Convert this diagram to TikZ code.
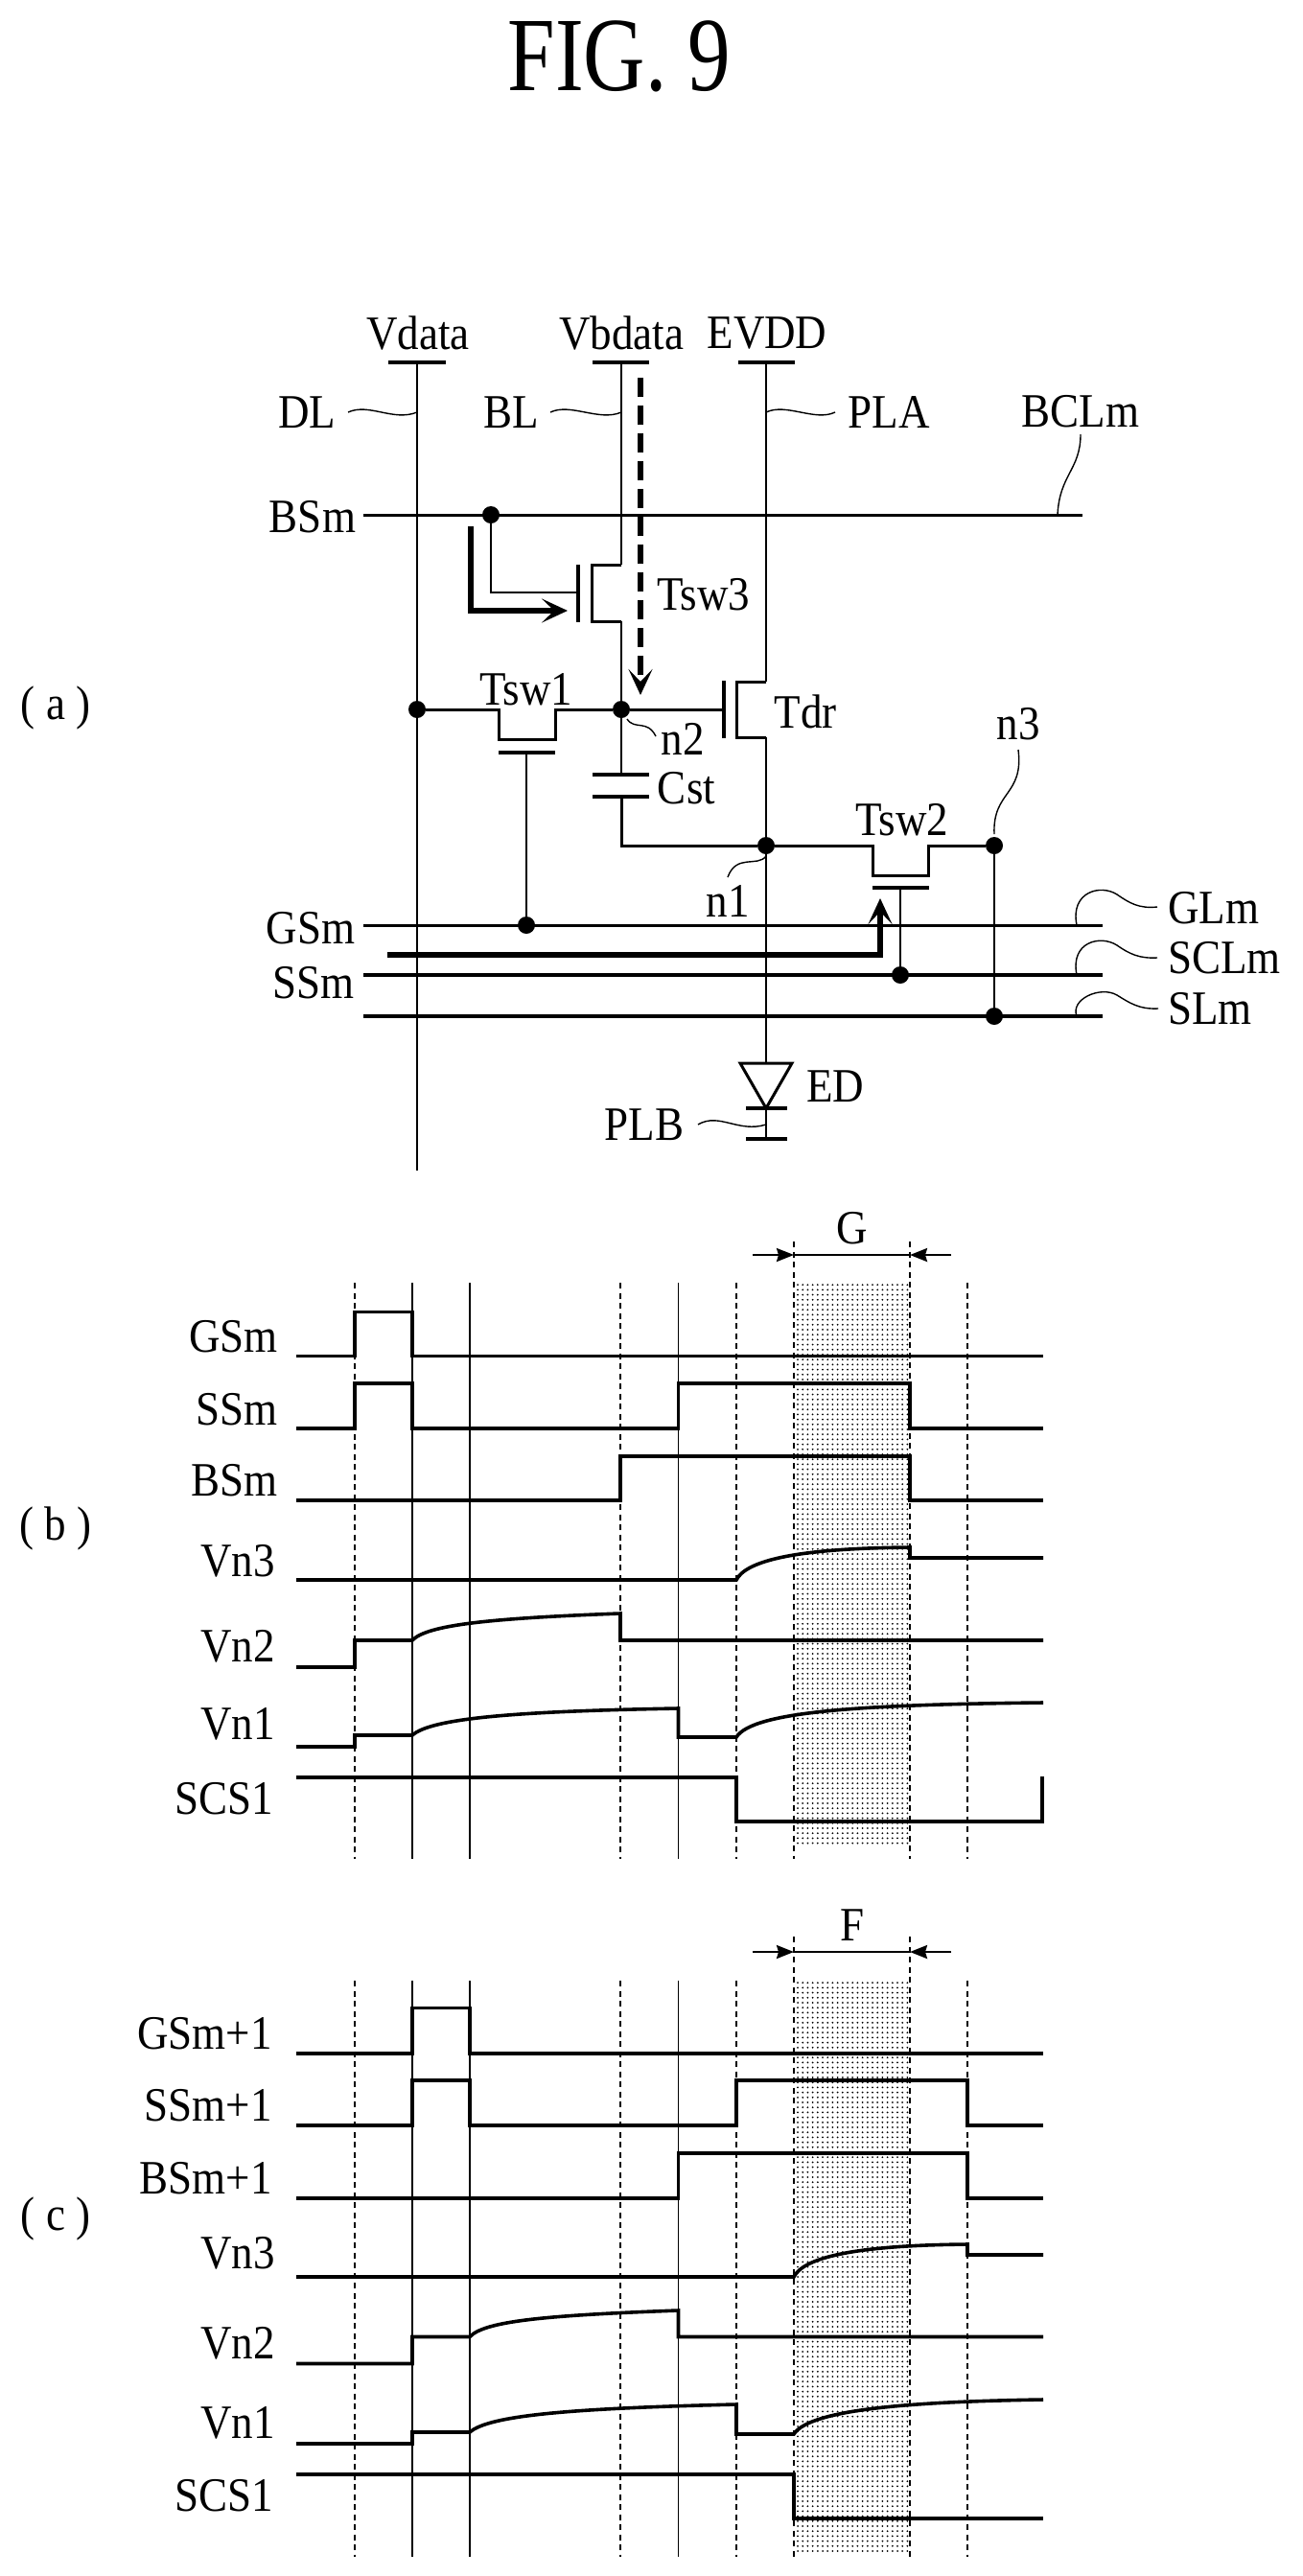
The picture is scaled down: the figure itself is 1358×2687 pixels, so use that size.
\documentclass[tikz,border=0pt]{standalone}
\usepackage{fontspec}
\setmainfont[FakeStretch=0.9]{Liberation Serif}
\newfontfamily\titlefont[FakeStretch=0.81]{Liberation Serif}
\usetikzlibrary{arrows.meta,patterns.meta}
\tikzset{
  x=1pt,y=-1pt,
  wire/.style={line width=2.2pt,black},
  plate/.style={line width=4pt,black},
  heavy/.style={line width=6.5pt,black,line cap=round},
  bus/.style={line width=3.6pt,black},
  sig/.style={line width=3.6pt,black,line join=miter},
  tick/.style={line width=1.3pt,black},
  dashtick/.style={line width=1.2pt,black,dash pattern=on 6pt off 4.5pt},
  wavy/.style={line width=1.4pt,black},
  dot/.style={circle,fill=black,inner sep=0pt,minimum size=18pt},
  lab/.style={inner sep=0pt,font=\fontsize{50}{50}\selectfont,text=black},
  barb/.style={-{Stealth[length=27pt,width=25pt,inset=13pt]}},
  solidtip/.style={-{Stealth[length=18pt,width=14pt,inset=2pt]}},
  shade/.style={pattern={Dots[distance=5.2pt,radius=1pt]},pattern color=black},
}
\begin{document}
\begin{tikzpicture}
\useasboundingbox (0,0) rectangle (1358,2687);
\node[inner sep=0pt,font=\titlefont\fontsize{110}{110}\selectfont] (title) at (646,59) {FIG. 9};

% ---------- (a) circuit ----------
\node[lab] (pa) at (58,738) {( a )};
\node[lab] (tVdata) at (436,348) {Vdata};
\node[lab] (tVb) at (648,348) {Vbdata};
\node[lab] (tEV) at (800,348) {EVDD};
\coordinate (Dt) at (435,378); \coordinate (Db) at (435,1221);
\coordinate (Bt) at (648,378);
\coordinate (Pt) at (799,378);
\draw[plate] (405,378) -- (465,378);
\draw[plate] (618,378) -- (677,378);
\draw[plate] (770,378) -- (829,378);
\node[dot] (n2dot) at (648,740) {};
\node[dot] (dldot) at (435,740) {};
\node[dot] (n1dot) at (799,882) {};
\node[dot] (n3dot) at (1037,882) {};
\node[dot] (bsdot) at (512,537) {};
\node[dot] (gsdot) at (549,965) {};
\node[dot] (ssdot) at (939,1017) {};
\node[dot] (sldot) at (1037,1060) {};
\draw[wire] (Dt) -- (Db);
% BSm / GSm / SSm / SL lines
\coordinate (bsL) at (379,537); \coordinate (bsR) at (1129,537);
\coordinate (gsL) at (379,965); \coordinate (gsR) at (1150,965);
\coordinate (ssL) at (379,1017); \coordinate (ssR) at (1150,1017);
\coordinate (slL) at (379,1060); \coordinate (slR) at (1150,1060);
\draw[wire,line width=3pt] (bsL) -- (bsR);
\draw[wire,line width=3pt] (gsL) -- (gsR);
\draw[bus] (ssL) -- (ssR);
\draw[bus] (slL) -- (slR);
% Tsw3
\coordinate (t3d) at (648,589); \coordinate (t3s) at (648,648);
\draw[wire] (Bt) -- (t3d);
\draw[wire,line width=3pt] (t3d) -- (617,589) -- (617,648) -- (t3s);
\draw[wire] (t3s) -- (n2dot);
\draw[plate] (603,589) -- (603,649);
\coordinate (t3g) at (603,618);
\draw[wire] (bsdot) |- (t3g);
\node[lab] (tT3) at (734,620) {Tsw3};
% L-shaped and dashed flow arrows
\coordinate (La) at (491,549); \coordinate (Lb) at (491,637); \coordinate (Lc) at (592,637);
\draw[heavy,barb,line cap=butt] (La) -- (Lb) -- (Lc);
\coordinate (Fa) at (668,394); \coordinate (Fb) at (668,725);
\draw[heavy,barb,dash pattern=on 20pt off 9pt,line cap=butt] (Fa) -- (Fb);
% Tsw1
\draw[wire,line width=3pt] (dldot) -- (520,740) -- (520,771) -- (579,771) -- (579,740) -- (n2dot);
\draw[plate] (520,785) -- (579,785);
\coordinate (t1g) at (549,785);
\draw[wire] (t1g) -- (gsdot);
\node[lab] (tT1) at (549,719) {Tsw1};
% Tdr
\coordinate (tdg) at (755,740);
\draw[wire,line width=3pt] (n2dot) -- (tdg);
\draw[plate] (755,710) -- (755,770);
\coordinate (tdd) at (799,711); \coordinate (tds) at (799,769);
\draw[wire,line width=3pt] (tdd) -- (768,711) -- (768,769) -- (tds);
\draw[wire] (Pt) -- (tdd);
\draw[wire] (tds) -- (n1dot);
\node[lab] (tTd) at (840,742) {Tdr};
% Cst
\coordinate (c1) at (648,808); \coordinate (c2) at (648,831);
\draw[wire] (n2dot) -- (c1);
\draw[plate] (618,808) -- (677,808);
\draw[plate] (618,831) -- (677,831);
\draw[wire,line width=3pt] (c2) |- (n1dot);
\node[lab] (tCst) at (716,822) {Cst};
% Tsw2
\draw[wire,line width=3pt] (n1dot) -- (910,882) -- (910,913) -- (968,913) -- (968,882) -- (n3dot);
\draw[plate] (910,926) -- (969,926);
\coordinate (t2g) at (939,926);
\draw[wire] (t2g) -- (ssdot);
\node[lab] (tT2) at (941,855) {Tsw2};
\draw[wire] (n3dot) -- (sldot);
% thick arrow to Tsw2
\coordinate (Ha) at (404,996); \coordinate (Hb) at (918,996); \coordinate (Hc) at (918,937);
\draw[heavy,barb,line cap=butt] (Ha) -- (Hb) -- (Hc);
% diode
\coordinate (edt) at (799,1109); \coordinate (edb) at (799,1156); \coordinate (plb) at (799,1188);
\draw[wire] (n1dot) -- (edt);
\draw[wire,line width=3pt,line join=miter] (772,1109) -- (826,1109) -- (edb) -- cycle;
\draw[plate] (778,1156) -- (821,1156);
\draw[wire] (edb) -- (plb);
\draw[plate] (778,1188) -- (821,1188);
\node[lab] (tED) at (871,1133) {ED};
\node[lab] (tPLB) at (672,1173) {PLB};
% labels with wavy leaders
\node[lab] (tDL) at (320,430) {DL};
\node[lab] (tBL) at (533,430) {BL};
\node[lab] (tPLA) at (927,430) {PLA};
\node[lab] (tBCL) at (1127,429) {BCLm};
\node[lab] (tBS) at (326,539) {BSm};
\node[lab] (tGS) at (324,968) {GSm};
\node[lab] (tSS) at (327,1025) {SSm};
\node[lab] (tn2) at (712,771) {n2};
\node[lab] (tn1) at (759,940) {n1};
\node[lab] (tn3) at (1062,755) {n3};
\node[lab,anchor=west] (tGL) at (1218,947) {GLm};
\node[lab,anchor=west] (tSCL) at (1218,999) {SCLm};
\node[lab,anchor=west] (tSL) at (1218,1052) {SLm};
\coordinate (wDL) at (363,430); \coordinate (wDLe) at (435,430);
\coordinate (wBL) at (574,430); \coordinate (wBLe) at (648,430);
\coordinate (wPL) at (871,430); \coordinate (wPLe) at (799,430);
\draw[wavy] (wDL) .. controls (385,420) and (410,440) .. (wDLe);
\draw[wavy] (wBL) .. controls (595,420) and (625,440) .. (wBLe);
\draw[wavy] (wPLe) .. controls (820,420) and (850,440) .. (wPL);
\coordinate (wBC) at (1127,453); \coordinate (wBCe) at (1103,537);
\draw[wavy] (wBC) .. controls (1127,490) and (1105,495) .. (wBCe);
\coordinate (wn2) at (654,750); \coordinate (wn2e) at (684,768);
\draw[wavy] (wn2) .. controls (662,762) and (675,750) .. (wn2e);
\coordinate (wn3) at (1062,782); \coordinate (wn3e) at (1037,870);
\draw[wavy] (wn3) .. controls (1068,830) and (1035,825) .. (wn3e);
\coordinate (wn1) at (799,893); \coordinate (wn1e) at (759,915);
\draw[wavy] (wn1) .. controls (790,905) and (768,890) .. (wn1e);
\coordinate (wPB) at (728,1173); \coordinate (wPBe) at (799,1173);
\draw[wavy] (wPB) .. controls (750,1160) and (770,1182) .. (wPBe);
\coordinate (wGL) at (1123,965); \coordinate (wGLe) at (1207,946);
\draw[wavy] (wGL) .. controls (1116,930) and (1148,922) .. (1165,933) .. controls (1178,942) and (1188,948) .. (wGLe);
\coordinate (wSC) at (1123,1017); \coordinate (wSCe) at (1207,999);
\draw[wavy] (wSC) .. controls (1116,982) and (1148,975) .. (1165,986) .. controls (1178,995) and (1188,1000) .. (wSCe);
\coordinate (wSL) at (1123,1060); \coordinate (wSLe) at (1208,1052);
\draw[wavy] (wSL) .. controls (1116,1042) and (1148,1028) .. (1165,1038) .. controls (1178,1046) and (1188,1053) .. (wSLe);

% ---------- (b) timing ----------
\node[lab] (pb) at (58,1594) {( b )};
\fill[shade] (828,1338) rectangle (949,1924);
\foreach \x in {370,647,768,1009} \draw[dashtick] (\x,1338) -- (\x,1939);
\foreach \x in {828,949} \draw[dashtick] (\x,1295) -- (\x,1939);
\foreach \x in {430,490,707.5} \draw[tick] (\x,1338) -- (\x,1939);
\coordinate (gL) at (828,1309); \coordinate (gR) at (949,1309);
\coordinate (gLo) at (785,1309); \coordinate (gRo) at (992,1309);
\draw[bus,line width=2.4pt] (gL) -- (gR);
\draw[bus,line width=2.4pt,solidtip] (gLo) -- (gL);
\draw[bus,line width=2.4pt,solidtip] (gRo) -- (gR);
\node[lab] (tG) at (889,1281) {G};
\node[lab,anchor=east] (bGS) at (290,1394) {GSm};
\node[lab,anchor=east] (bSS) at (290,1470) {SSm};
\node[lab,anchor=east] (bBS) at (290,1544) {BSm};
\node[lab,anchor=east] (bV3) at (287,1628) {Vn3};
\node[lab,anchor=east] (bV2) at (287,1717) {Vn2};
\node[lab,anchor=east] (bV1) at (287,1798) {Vn1};
\node[lab,anchor=east] (bSC) at (285,1876) {SCS1};
\draw[sig] (309,1414.5) -| (370,1368.5) -| (430,1414.5) -- (1088,1414.5);
\draw[sig] (309,1490) -| (370,1443) -| (430,1490) -| (707.5,1443) -| (949,1490) -- (1088,1490);
\draw[sig] (309,1565) -| (647,1519) -| (949,1565) -- (1088,1565);
\draw[sig] (309,1648) -- (768,1648) .. controls (778,1628) and (830,1615) .. (949,1614) -- (949,1625) -- (1088,1625);
\draw[sig] (309,1739) -| (370,1711) -- (430,1711) .. controls (445,1695) and (510,1688) .. (647,1683) -- (647,1711) -- (1088,1711);
\draw[sig] (309,1822) -| (370,1810) -- (430,1810) .. controls (450,1792) and (540,1785) .. (707.5,1782) -- (707.5,1812) -- (768,1812) .. controls (785,1785) and (900,1778) .. (1088,1776);
\draw[sig] (309,1854) -- (768,1854) -- (768,1900) -- (1087,1900) -- (1087,1853);

% ---------- (c) timing ----------
\node[lab] (pc) at (58,2314) {( c )};
\fill[shade] (828,2066) rectangle (949,2662);
\foreach \x in {370,647,768,1009} \draw[dashtick] (\x,2066) -- (\x,2667);
\foreach \x in {828,949} \draw[dashtick] (\x,2020) -- (\x,2667);
\foreach \x in {430,490,707.5} \draw[tick] (\x,2066) -- (\x,2667);
\coordinate (fL) at (828,2036); \coordinate (fR) at (949,2036);
\coordinate (fLo) at (785,2036); \coordinate (fRo) at (992,2036);
\draw[bus,line width=2.4pt] (fL) -- (fR);
\draw[bus,line width=2.4pt,solidtip] (fLo) -- (fL);
\draw[bus,line width=2.4pt,solidtip] (fRo) -- (fR);
\node[lab] (tF) at (889,2008) {F};
\node[lab,anchor=east] (cGS) at (284,2121) {GSm+1};
\node[lab,anchor=east] (cSS) at (284,2196) {SSm+1};
\node[lab,anchor=east] (cBS) at (284,2272) {BSm+1};
\node[lab,anchor=east] (cV3) at (287,2350) {Vn3};
\node[lab,anchor=east] (cV2) at (287,2444) {Vn2};
\node[lab,anchor=east] (cV1) at (287,2527) {Vn1};
\node[lab,anchor=east] (cSC) at (285,2603) {SCS1};
\draw[sig] (309,2142) -| (430,2094.5) -| (490,2142) -- (1088,2142);
\draw[sig] (309,2217) -| (430,2170) -| (490,2217) -| (768,2170) -| (1009,2217) -- (1088,2217);
\draw[sig] (309,2293) -| (707.5,2246) -| (1009,2293) -- (1088,2293);
\draw[sig] (309,2375) -- (828,2375) .. controls (838,2355) and (890,2342) .. (1009,2341) -- (1009,2352) -- (1088,2352);
\draw[sig] (309,2465.5) -| (430,2437.5) -- (490,2437.5) .. controls (505,2421) and (570,2415) .. (707.5,2410) -- (707.5,2437.5) -- (1088,2437.5);
\draw[sig] (309,2549) -| (430,2537) -- (490,2537) .. controls (510,2519) and (600,2512) .. (768,2508) -- (768,2539) -- (828,2539) .. controls (845,2512) and (960,2505) .. (1088,2503);
\draw[sig] (309,2581) -- (828,2581) -- (828,2627) -- (1088,2627);
\end{tikzpicture}
\end{document}
